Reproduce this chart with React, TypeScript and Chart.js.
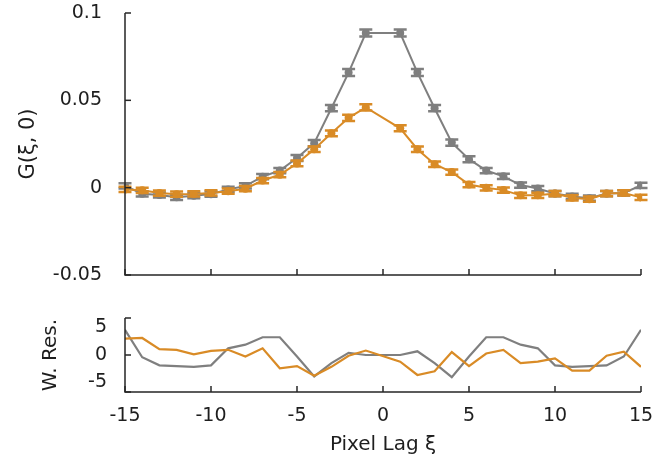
import React, { useEffect, useRef } from 'react';
import { Chart, registerables } from 'chart.js';

Chart.register(...registerables);

// ---- data (lag 0 is not part of the fit) ----
const lags = [-15, -14, -13, -12, -11, -10, -9, -8, -7, -6, -5, -4, -3, -2, -1,
  1, 2, 3, 4, 5, 6, 7, 8, 9, 10, 11, 12, 13, 14, 15];

const grayG = [0.001, -0.0035, -0.0042, -0.0055, -0.0046, -0.0037, -0.001, 0.001, 0.0063, 0.0098,
  0.017, 0.0255, 0.0455, 0.0659, 0.0885,
  0.0885, 0.0659, 0.0455, 0.0258, 0.0163, 0.0098, 0.0065, 0.0015, -0.0005, -0.0034,
  -0.005, -0.006, -0.0034, -0.003, 0.0013];
const grayErr = [0.0015, 0.0015, 0.0015, 0.0015, 0.0015, 0.0015, 0.0015, 0.0015, 0.0015, 0.0015,
  0.0017, 0.0018, 0.0018, 0.002, 0.002,
  0.002, 0.002, 0.0018, 0.0018, 0.0017, 0.0015, 0.0015, 0.0015, 0.0015, 0.0015,
  0.0015, 0.0015, 0.0015, 0.0015, 0.0015];

const orangeG = [-0.001, -0.0015, -0.0031, -0.0037, -0.0036, -0.003, -0.002, -0.0006, 0.0041, 0.0074,
  0.0139, 0.022, 0.0311, 0.040, 0.046,
  0.034, 0.022, 0.0134, 0.0089, 0.0018, -0.0001, -0.0014, -0.0044, -0.0044, -0.0034,
  -0.0058, -0.0066, -0.0034, -0.003, -0.0056];
const orangeErr = [0.0015, 0.0015, 0.0015, 0.0015, 0.0015, 0.0015, 0.0015, 0.0015, 0.0015, 0.0015,
  0.0016, 0.0016, 0.0017, 0.0018, 0.0018,
  0.0017, 0.0016, 0.0016, 0.0015, 0.0015, 0.0015, 0.0015, 0.0015, 0.0015, 0.0015,
  0.0015, 0.0015, 0.0015, 0.0015, 0.0015];

const grayRes = [3.4, -0.3, -1.4, -1.5, -1.6, -1.4, 0.9, 1.4, 2.4, 2.4,
  -0.2, -2.9, -1.1, 0.3, 0,
  0, 0.5, -1.1, -3.0, -0.2, 2.4, 2.4, 1.4, 0.9, -1.4,
  -1.6, -1.5, -1.4, -0.2, 3.4];
const orangeRes = [2.2, 2.3, 0.8, 0.7, 0.1, 0.55, 0.7, -0.2, 0.9, -1.8,
  -1.5, -2.8, -1.6, -0.1, 0.6,
  -0.9, -2.7, -2.2, 0.4, -1.5, 0.2, 0.7, -1.1, -0.9, -0.45,
  -2.1, -2.1, -0.1, 0.45, -1.6];

const xTicks = [-15, -10, -5, 0, 5, 10, 15];
const gTicks = [-0.05, 0, 0.05, 0.1];
const resTicks = [-5, 0, 5];

const GRAY = '#7f7f7f';
const ORANGE = '#d98b26';
const AXIS = '#262626';
const TEXT = '#1e1e1e';
const FONT = "'DejaVu Sans', sans-serif";

const pts = (ys: number[]) => lags.map((x, i) => ({ x, y: ys[i] }));

const axesPlugin = {
  id: 'axesInward',
  afterDraw(chart: any) {
    const { ctx, chartArea, scales } = chart;
    const xs = scales.x, ys = scales.y;
    ctx.save();
    ctx.strokeStyle = AXIS;
    ctx.lineWidth = 1.5;
    ctx.beginPath();
    ctx.moveTo(chartArea.left, chartArea.top);
    ctx.lineTo(chartArea.left, chartArea.bottom);
    ctx.lineTo(chartArea.right, chartArea.bottom);
    ctx.stroke();
    xs.ticks.forEach((t: any) => {
      const px = xs.getPixelForValue(t.value);
      ctx.beginPath();
      ctx.moveTo(px, chartArea.bottom);
      ctx.lineTo(px, chartArea.bottom - 6);
      ctx.stroke();
    });
    ys.ticks.forEach((t: any) => {
      const py = ys.getPixelForValue(t.value);
      ctx.beginPath();
      ctx.moveTo(chartArea.left, py);
      ctx.lineTo(chartArea.left + 6, py);
      ctx.stroke();
    });
    ctx.restore();
  },
};

const errorBarPlugin = {
  id: 'errorBars',
  afterDatasetDraw(chart: any, args: any) {
    const ds = chart.data.datasets[args.index];
    const errs: number[] | undefined = ds.errors;
    if (!errs) return;
    const { ctx, scales } = chart;
    const xs = scales.x, ys = scales.y;
    ctx.save();
    ctx.strokeStyle = ds.borderColor;
    ctx.lineWidth = 2.5;
    ds.data.forEach((p: any, j: number) => {
      const px = xs.getPixelForValue(p.x);
      const top = ys.getPixelForValue(p.y + errs[j]);
      const bot = ys.getPixelForValue(p.y - errs[j]);
      ctx.beginPath();
      ctx.moveTo(px, top);
      ctx.lineTo(px, bot);
      ctx.moveTo(px - 6.5, top);
      ctx.lineTo(px + 6.5, top);
      ctx.moveTo(px - 6.5, bot);
      ctx.lineTo(px + 6.5, bot);
      ctx.stroke();
    });
    ctx.restore();
  },
};

const xScaleBase = {
  type: 'linear' as const,
  min: -15,
  max: 15,
  grid: { display: false },
  border: { display: false },
  afterBuildTicks: (scale: any) => {
    scale.ticks = xTicks.map((v) => ({ value: v }));
  },
};

const fixX = (h: number) => (s: any) => {
  s.height = h;
  s.paddingLeft = 0;
  s.paddingRight = 0;
};
const fixY = (s: any) => {
  s.width = 125;
  s.paddingTop = 0;
  s.paddingBottom = 0;
};

export default function App() {
  const topRef = useRef<HTMLCanvasElement>(null);
  const botRef = useRef<HTMLCanvasElement>(null);

  useEffect(() => {
    const top = new Chart(topRef.current!, {
      type: 'line',
      data: {
        datasets: [
          {
            label: 'gray',
            data: pts(grayG),
            borderColor: GRAY,
            backgroundColor: GRAY,
            borderWidth: 2,
            pointRadius: 4,
            pointBorderWidth: 0,
            order: 1,
            errors: grayErr,
          } as any,
          {
            label: 'orange',
            data: pts(orangeG),
            borderColor: ORANGE,
            backgroundColor: ORANGE,
            borderWidth: 2,
            pointRadius: 4,
            pointBorderWidth: 0,
            order: 0,
            errors: orangeErr,
          } as any,
        ],
      },
      options: {
        animation: false,
        responsive: false,
        devicePixelRatio: 1,
        layout: { padding: { left: 0, right: 12, top: 13, bottom: 0 } },
        plugins: { legend: { display: false }, tooltip: { enabled: false } },
        scales: {
          x: {
            ...xScaleBase,
            ticks: { display: false },
            afterFit: fixX(10),
          },
          y: {
            type: 'linear',
            min: -0.05,
            max: 0.1,
            grid: { display: false },
            border: { display: false },
            afterBuildTicks: (scale: any) => {
              scale.ticks = gTicks.map((v) => ({ value: v }));
            },
            ticks: {
              color: TEXT,
              padding: 15,
              autoSkip: false,
              font: { family: FONT, size: 19, lineHeight: 1.0 },
              callback: (v: any) => String(Number(Number(v).toFixed(3))),
            },
            title: {
              display: true,
              text: 'G(ξ, 0)',
              color: TEXT,
              font: { family: FONT, size: 21 },
              padding: { top: 16, bottom: 0 },
            },
            afterFit: fixY,
          },
        },
      },
      plugins: [axesPlugin, errorBarPlugin],
    } as any);

    const bot = new Chart(botRef.current!, {
      type: 'line',
      data: {
        datasets: [
          {
            label: 'gray',
            data: pts(grayRes),
            borderColor: GRAY,
            borderWidth: 2.2,
            pointRadius: 0,
            order: 1,
          },
          {
            label: 'orange',
            data: pts(orangeRes),
            borderColor: ORANGE,
            borderWidth: 2.2,
            pointRadius: 0,
            order: 0,
          },
        ],
      },
      options: {
        animation: false,
        responsive: false,
        devicePixelRatio: 1,
        layout: { padding: { left: 0, right: 12, top: 33, bottom: 0 } },
        plugins: { legend: { display: false }, tooltip: { enabled: false } },
        scales: {
          x: {
            ...xScaleBase,
            ticks: {
              color: TEXT,
              padding: 5,
              maxRotation: 0,
              autoSkip: false,
              font: { family: FONT, size: 19 },
            },
            title: {
              display: true,
              text: 'Pixel Lag ξ',
              color: TEXT,
              font: { family: FONT, size: 20 },
              padding: { top: 0, bottom: 5 },
            },
            afterFit: fixX(70),
          },
          y: {
            type: 'linear',
            min: -5,
            max: 5,
            grid: { display: false },
            border: { display: false },
            afterBuildTicks: (scale: any) => {
              scale.ticks = resTicks.map((v) => ({ value: v }));
            },
            ticks: {
              color: TEXT,
              padding: 10,
              autoSkip: false,
              font: { family: FONT, size: 19, lineHeight: 1.0 },
              callback: (v: any) => {
                const n = Number(v);
                if (n === 5) return ['', '5'];
                if (n === -5) return ['-5', ''];
                return String(n);
              },
            },
            title: {
              display: true,
              text: 'W. Res.',
              color: TEXT,
              font: { family: FONT, size: 20 },
              padding: { top: 39, bottom: 0 },
            },
            afterFit: fixY,
          },
        },
      },
      plugins: [axesPlugin],
    } as any);

    return () => {
      top.destroy();
      bot.destroy();
    };
  }, []);

  return (
    <div style={{ position: 'absolute', left: 0, top: 0, width: 653, height: 462, background: '#fff' }}>
      <canvas ref={topRef} width={653} height={285} style={{ position: 'absolute', left: 0, top: 0, display: 'block' }} />
      <canvas ref={botRef} width={653} height={177} style={{ position: 'absolute', left: 0, top: 285, display: 'block' }} />
    </div>
  );
}
